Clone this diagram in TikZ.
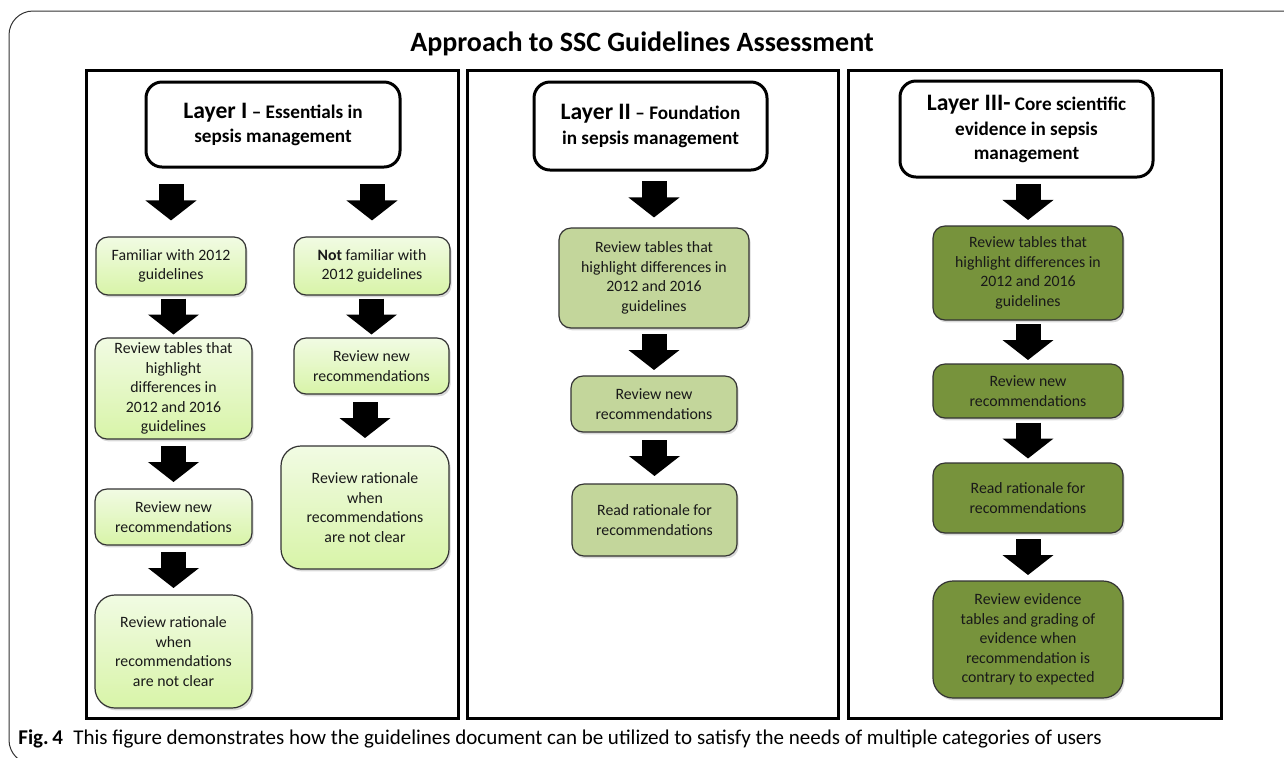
\documentclass[tikz,border=0pt]{standalone}
\usepackage{fontspec}
\setmainfont{Carlito}
\usetikzlibrary{calc,shadows,arrows.meta}

\definecolor{lighttop}{HTML}{F1FBE3}
\definecolor{lightbot}{HTML}{D8F4A8}
\definecolor{midgreen}{HTML}{C3D69B}
\definecolor{darkgreen}{HTML}{77933C}

\newcommand{\layername}[1]{{\fontsize{11.8pt}{12.3pt}\selectfont #1}}

\begin{document}
\begin{tikzpicture}[x=0.5pt, y=-0.5pt,
    layerbox/.style={draw, line width=1.5pt, rounded corners=8pt, fill=white,
        align=center, inner sep=0pt, font=\bfseries\fontsize{9.6pt}{12.3pt}\selectfont},
    stepbox/.style={draw=black!80, line width=0.6pt, rounded corners=6pt,
        align=center, inner sep=0pt, text=black!90,
        font=\fontsize{7.9pt}{9.8pt}\selectfont,
        drop shadow={shadow xshift=0.8pt, shadow yshift=-1.2pt, opacity=0.3}},
    lightstep/.style={stepbox, top color=lighttop, bottom color=lightbot},
    midstep/.style={stepbox, fill=midgreen},
    darkstep/.style={stepbox, fill=darkgreen},
    flowarrow/.style={line width=12.5pt, -{Triangle[width=25pt, length=10pt]}}]
    \useasboundingbox (0,0) rectangle (1284,757);

    % Outer frame
    \begin{scope}
        \clip (0,0) rectangle (1284,757);
        \draw[line width=0.5pt, black!80, rounded corners=12pt] (1300,11) -- (9,11) -- (9,764) -- (1300,764);
    \end{scope}

    % Title
    \node[font=\bfseries\fontsize{14pt}{16pt}\selectfont] (title) at (642,44) {Approach to SSC Guidelines Assessment};

    % Panels
    \foreach \xa/\xb in {86/458, 467/838, 848/1221} {
        \draw[line width=1.5pt] (\xa,70) rectangle (\xb,718);
    }

    % Layer I
    \node[layerbox, minimum width=127pt, minimum height=42.5pt] (l1) at (273,124.5) {\layername{Layer I} -- Essentials in\\sepsis management};
    \node[lightstep, minimum width=75pt, minimum height=29pt] (f1) at (171,266) {Familiar with 2012\\guidelines};
    \node[lightstep, minimum width=78pt, minimum height=29pt] (n1) at (372,266) {\textbf{Not} familiar with\\2012 guidelines};
    \node[lightstep, minimum width=78.5pt, minimum height=50.5pt] (f2) at (173.5,388.5) {Review tables that\\highlight\\differences in\\2012 and 2016\\guidelines};
    \node[lightstep, minimum width=77.5pt, minimum height=28pt] (n2) at (371.5,366) {Review new\\recommendations};
    \node[lightstep, minimum width=84pt, minimum height=61.5pt, rounded corners=10pt] (n3) at (365,507.5) {Review rationale\\when\\recommendations\\are not clear};
    \node[lightstep, minimum width=78.5pt, minimum height=28pt] (f3) at (173.5,517) {Review new\\recommendations};
    \node[lightstep, minimum width=78.5pt, minimum height=56.5pt, rounded corners=10pt] (f4) at (173.5,651.5) {Review rationale\\when\\recommendations\\are not clear};

    % Layer II
    \node[layerbox, minimum width=116.5pt, minimum height=44pt] (l2) at (650.5,126) {\layername{Layer II} -- Foundation\\in sepsis management};
    \node[midstep, minimum width=95pt, minimum height=50pt] (m1) at (654,278) {Review tables that\\highlight differences in\\2012 and 2016\\guidelines};
    \node[midstep, minimum width=83pt, minimum height=28pt] (m2) at (654,404) {Review new\\recommendations};
    \node[midstep, minimum width=82.5pt, minimum height=36pt] (m3) at (654.5,520) {Read rationale for\\recommendations};

    % Layer III
    \node[layerbox, minimum width=126.5pt, minimum height=48pt] (l3) at (1026.5,129) {\layername{Layer III-} Core scientific\\evidence in sepsis\\management};
    \node[darkstep, minimum width=95pt, minimum height=47pt] (d1) at (1028,273) {Review tables that\\highlight differences in\\2012 and 2016\\guidelines};
    \node[darkstep, minimum width=95pt, minimum height=27pt] (d2) at (1028,391) {Review new\\recommendations};
    \node[darkstep, minimum width=95pt, minimum height=35pt] (d3) at (1028,498) {Read rationale for\\recommendations};
    \node[darkstep, minimum width=95pt, minimum height=58.5pt, rounded corners=10pt] (d4) at (1028,639.5) {Review evidence\\tables and grading of\\evidence when\\recommendation is\\contrary to expected};

    % Block arrows
    \foreach \a/\b in {l1/f1, l1/n1, f1/f2, f2/f3, f3/f4, n1/n2, n2/n3, l2/m1, m1/m2, m2/m3, l3/d1, d1/d2, d2/d3, d3/d4} {
        \draw[flowarrow] ($(\a.south -| \b.north)!0.5!(\b.north) + (0,-18)$) -- ++(0,36);
    }

    % Caption
    \node[anchor=base west, inner sep=0pt, font=\fontsize{10.5pt}{12pt}\selectfont] (caption) at (18,744) {\textbf{Fig.\,4}\enspace This figure demonstrates how the guidelines document can be utilized to satisfy the needs of multiple categories of users};
\end{tikzpicture}
\end{document}
